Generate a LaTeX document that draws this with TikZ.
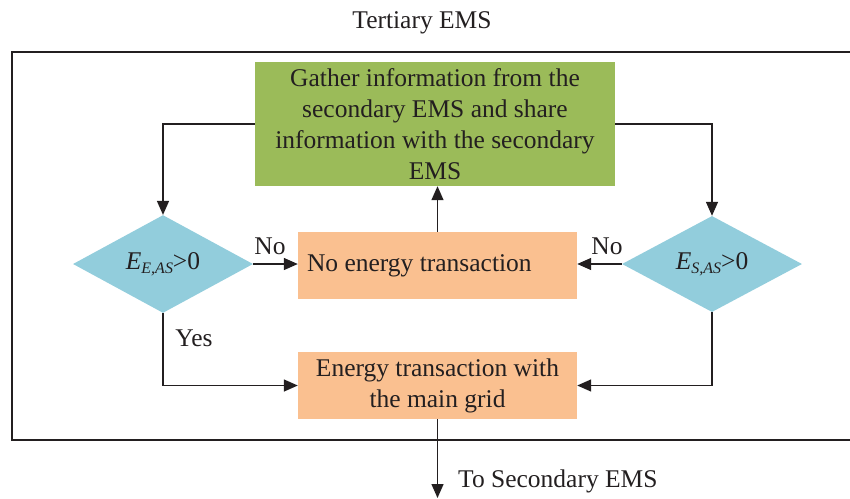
\documentclass[tikz,border=0pt]{standalone}
\usepackage{fontspec}
\setmainfont{Liberation Serif}
\usetikzlibrary{arrows.meta,shapes.geometric}
\definecolor{gfill}{HTML}{9BBB59}
\definecolor{ofill}{HTML}{FAC090}
\definecolor{cfill}{HTML}{92CDDC}
\definecolor{lcol}{HTML}{231F20}
\tikzset{
  base/.style={font=\fontsize{25.5}{31}\selectfont, text=lcol},
  gbox/.style={base, fill=gfill, inner sep=0pt, align=center, minimum width=360pt, minimum height=124pt},
  obox/.style={base, fill=ofill, inner sep=0pt, align=center, minimum width=279pt, minimum height=67pt},
  dbox/.style={base, shape=diamond, fill=cfill, inner sep=0pt, minimum width=180pt, minimum height=92pt},
  arr/.style={draw=lcol, line width=1.4pt, -{Triangle[length=14pt,width=12pt]}},
  lab/.style={base, inner sep=0pt},
}
\newcommand{\subit}[1]{\raisebox{-0.35ex}{\fontsize{16}{16}\selectfont\itshape #1}}
\begin{document}
\begin{tikzpicture}[x=1pt,y=-1pt]
\useasboundingbox (0,0) rectangle (850,498);
\node[lab] (title) at (422,23) {Tertiary EMS};
\draw[draw=lcol, line width=1.3pt] (852,52) -- (12,52) -- (12,440) -- (852,440);
\node[gbox] (g) at (435,124) {Gather information from the\\secondary EMS and share\\information with the secondary\\EMS};
\node[obox, align=flush left, inner xsep=9pt, text width=261pt] (o1) at (437.5,265.5) {No energy transaction};
\node[obox] (o2) at (437.5,385.5) {Energy transaction with\\the main grid};
\node[dbox] (d1) at (163,264) {\textit{E}\subit{E,AS}>0};
\node[dbox] (d2) at (712,264) {\textit{E}\subit{S,AS}>0};
\coordinate (end) at (437.5,498);
\draw[arr] (g.west) -| (d1.north);
\draw[arr] (g.east) -| (d2.north);
\draw[arr] (o1.north) -- (o1.north |- g.south);
\draw[arr] (d1.east) -- (d1.east -| o1.west);
\draw[arr] (d2.west) -- (d2.west -| o1.east);
\draw[arr] (d1.south) |- (o2.west);
\draw[arr] (d2.south) |- (o2.east);
\draw[arr] (o2.south) -- (end);
\node[lab] (no1) at (270,246) {No};
\node[lab] (no2) at (607,246) {No};
\node[lab] (yes) at (194,338) {Yes};
\node[lab, anchor=west] (to) at (458,481) {To Secondary EMS};
\end{tikzpicture}
\end{document}
